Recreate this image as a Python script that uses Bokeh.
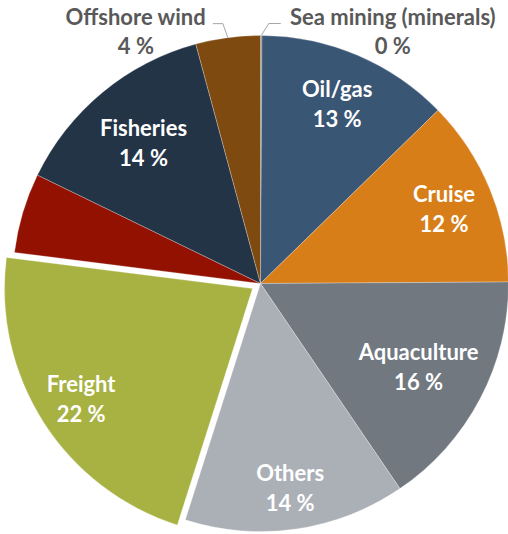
import numpy as np
from bokeh.plotting import figure
from bokeh.models import Range1d, ColumnDataSource
from bokeh.core.properties import value
from bokeh.embed import file_html
from bokeh.resources import INLINE

# ---------------- data ----------------
categories = ["Sea mining (minerals)", "Oil/gas", "Cruise", "Aquaculture", "Others",
              "Freight", "Unlabelled", "Fisheries", "Offshore wind"]
shares = [0.1, 12.6, 12.2, 15.6, 14.4, 22.1, 5.2, 13.6, 4.2]
colors = ["#8C8C8C", "#3A5675", "#D77E19", "#717880", "#ABB0B6",
          "#A8B242", "#931100", "#243447", "#7E4A10"]
label_mode = ["outside", "inside", "inside", "inside", "inside",
              "inside", "none", "inside", "outside"]

# ---------------- layout / style ----------------
W, H = 508, 534
CX, CY, R = 260, H - 283, 248
EXPLODE = {"Freight": 9.5}
LABEL_R = {"Oil/gas": 0.79, "Cruise": 0.80, "Aquaculture": 0.72, "Others": 0.83,
           "Freight": 0.82, "Fisheries": 0.74}
# leader: (elbow dx, elbow dy, horizontal length, label-centre offset from end)
LEADER = {"Sea mining (minerals)": (7.5, 12, 12, 112),
          "Offshore wind": (-5, 14, -10, -77)}
FONT = value("Lato")
FSIZE = "22px"

shares_arr = np.array(shares, dtype=float)
cum = np.concatenate([[0], np.cumsum(shares_arr)]) / shares_arr.sum()
f0, f1 = cum[:-1], cum[1:]
start = np.pi / 2 - 2 * np.pi * f1
end = np.pi / 2 - 2 * np.pi * f0
mid = np.pi / 2 - 2 * np.pi * (f0 + f1) / 2
expl = np.array([EXPLODE.get(c, 0.0) for c in categories])
xs = CX + expl * np.cos(mid)
ys = CY + expl * np.sin(mid)

p = figure(width=W, height=H, x_range=Range1d(0, W), y_range=Range1d(0, H),
           output_backend="svg", toolbar_location=None,
           x_axis_location=None, y_axis_location=None, min_border=0)
p.grid.visible = False
p.outline_line_color = None
p.background_fill_color = "white"

src = ColumnDataSource(dict(x=xs, y=ys, start=start, end=end, color=colors))
p.wedge(x="x", y="y", radius=R, start_angle="start", end_angle="end",
        direction="anticlock", fill_color="color",
        line_color="white", line_alpha=0.35, line_width=0.75, source=src)

pct = [f"{int(round(s))} %" for s in shares]

in_x, in_y, in_t = [], [], []
for i, c in enumerate(categories):
    if label_mode[i] != "inside":
        continue
    k = LABEL_R[c]
    lx = xs[i] + k * R * np.cos(mid[i])
    ly = ys[i] + k * R * np.sin(mid[i])
    in_x += [lx, lx]
    in_y += [ly + 15, ly - 15]
    in_t += [c, pct[i]]
p.text(x=in_x, y=in_y, text=in_t, text_align="center", text_baseline="middle",
       text_font=FONT, text_font_style="bold", text_font_size=FSIZE,
       text_color="white")

out_x, out_y, out_t = [], [], []
for i, c in enumerate(categories):
    if label_mode[i] != "outside":
        continue
    ex = xs[i] + R * np.cos(mid[i])
    ey = ys[i] + R * np.sin(mid[i])
    edx, edy, lh, lc = LEADER[c]
    bx, by = ex + edx, ey + edy
    tx = bx + lh
    p.line(x=[ex, bx, tx], y=[ey, by, by], line_color="#A6A6A6", line_width=1)
    cxl = tx + lc
    out_x += [cxl, cxl]
    out_y += [by + 7, by - 22]
    out_t += [c, pct[i]]
p.text(x=out_x, y=out_y, text=out_t, text_align="center", text_baseline="middle",
       text_font=FONT, text_font_style="bold", text_font_size=FSIZE,
       text_color="#595959")

open("out.html", "w").write(file_html(p, INLINE))
